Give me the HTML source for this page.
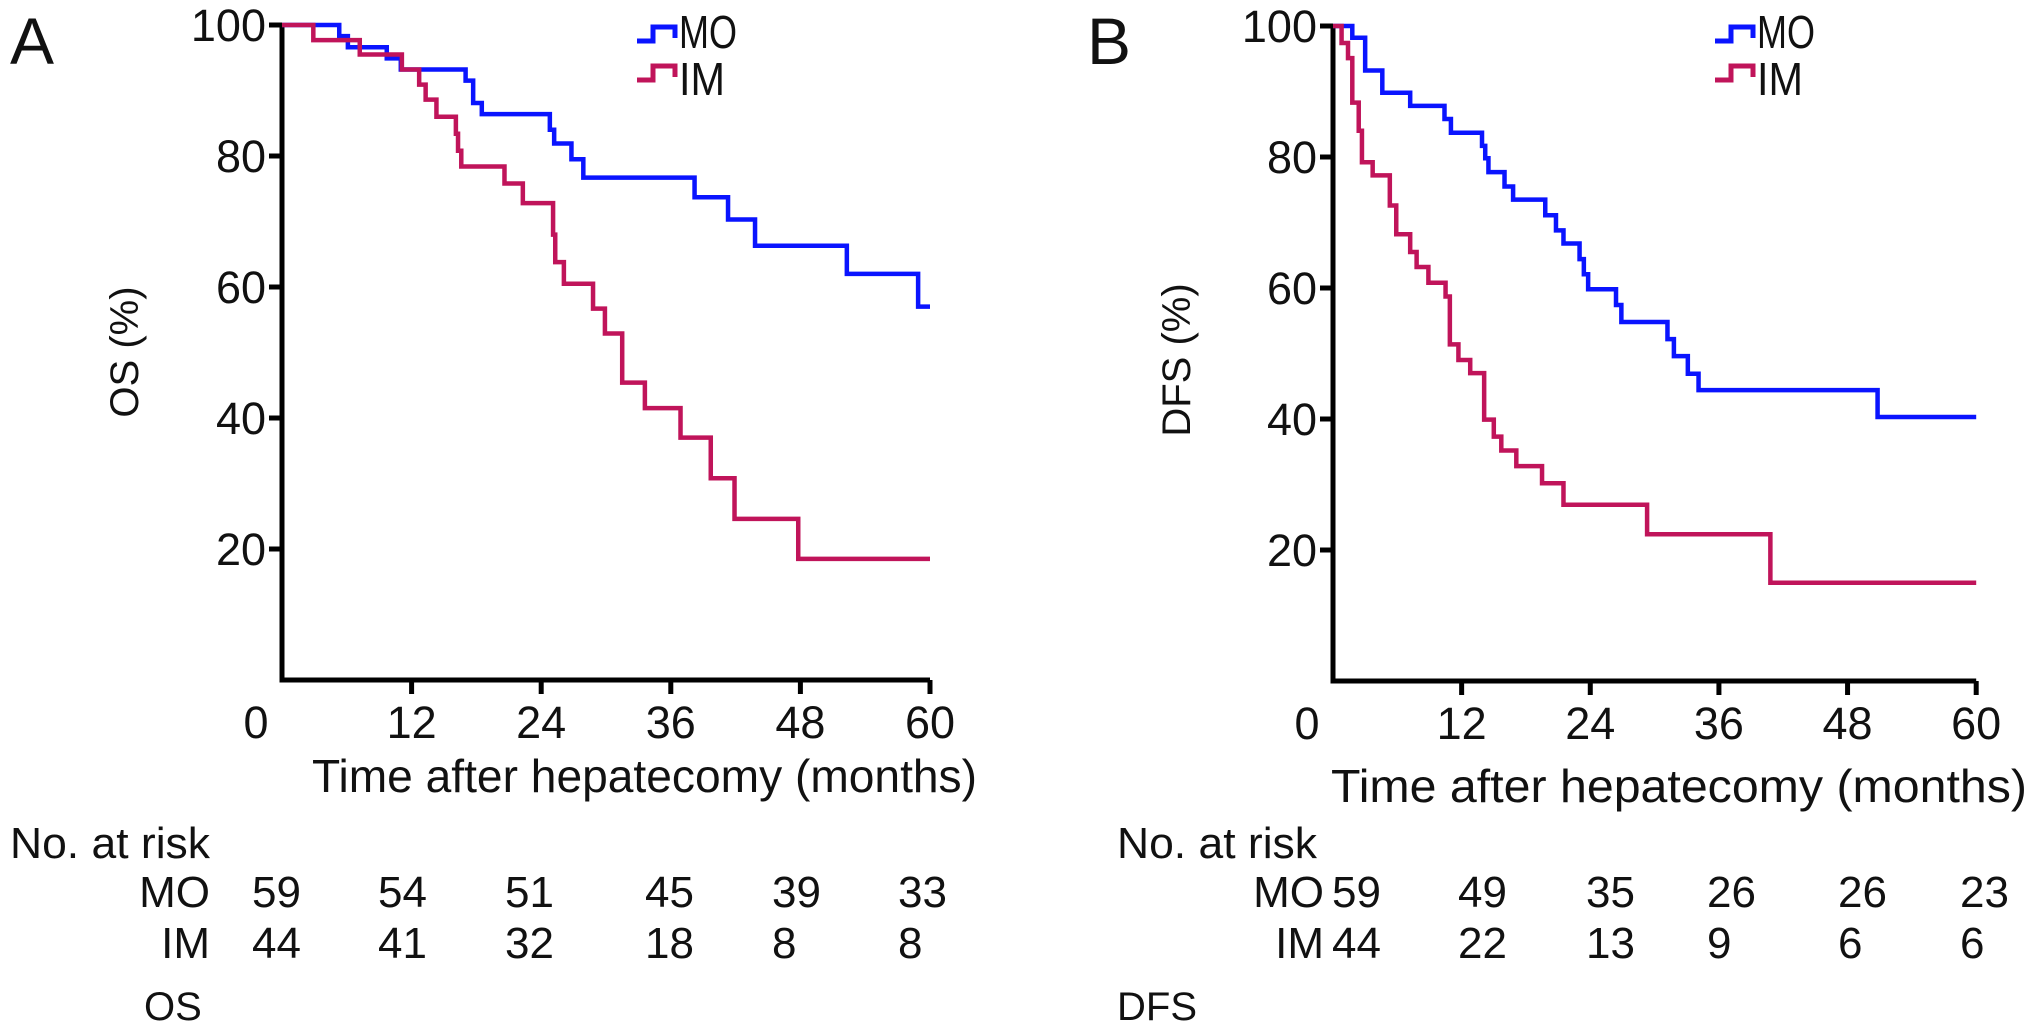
<!DOCTYPE html>
<html><head><meta charset="utf-8"><style>
html,body{margin:0;padding:0;background:#fff;}
svg{display:block;font-family:"Liberation Sans",Arial,sans-serif;}
</style></head><body>
<svg id="chart" width="2031" height="1033" viewBox="0 0 2031 1033" xmlns="http://www.w3.org/2000/svg"></svg>
<script>
// Panel A (OS) data
const osMoTimes = [0, 5.3, 6.1, 9.7, 11.0, 17.0, 17.7, 18.5, 24.8, 25.2, 26.8, 27.9, 38.2, 41.3, 43.8, 52.3, 58.9, 60];
const osMoValues = [100, 98.3, 96.6, 94.9, 93.2, 91.5, 88.1, 86.4, 84.0, 81.9, 79.5, 76.7, 73.7, 70.3, 66.3, 62.0, 57.0, 57.0];
const osImTimes = [0, 2.9, 7.2, 11.1, 12.7, 13.3, 14.3, 16.1, 16.3, 16.6, 20.6, 22.3, 25.1, 25.3, 26.1, 28.8, 29.9, 31.5, 33.6, 36.9, 39.7, 41.9, 47.8, 60];
const osImValues = [100, 97.7, 95.5, 93.2, 90.9, 88.6, 86.0, 83.4, 80.8, 78.4, 75.8, 72.8, 68.0, 63.8, 60.5, 56.7, 52.9, 45.4, 41.5, 37.0, 30.8, 24.6, 18.5, 18.5];
// Panel B (DFS) data
const dfsMoTimes = [0, 1.8, 3.0, 4.6, 7.2, 10.4, 11.0, 13.9, 14.2, 14.5, 16.0, 16.8, 19.8, 20.8, 21.5, 23.0, 23.4, 23.8, 26.4, 26.9, 31.2, 31.8, 33.1, 34.1, 50.8, 60];
const dfsMoValues = [100, 98.2, 93.2, 89.8, 87.8, 85.8, 83.7, 81.7, 79.8, 77.7, 75.5, 73.5, 71.1, 68.8, 66.8, 64.4, 62.1, 59.8, 57.4, 54.8, 52.2, 49.6, 46.9, 44.4, 40.3, 40.3];
const dfsImTimes = [0, 0.8, 1.4, 1.8, 2.4, 2.7, 3.7, 5.3, 5.9, 7.2, 7.8, 8.9, 10.5, 10.9, 11.7, 12.8, 14.1, 15.0, 15.7, 17.1, 19.5, 21.5, 29.3, 40.8, 60];
const dfsImValues = [100, 97.4, 95.1, 88.3, 84.0, 79.2, 77.2, 72.6, 68.2, 65.5, 63.2, 60.8, 58.7, 51.4, 49.0, 47.0, 39.9, 37.3, 35.2, 32.8, 30.2, 26.9, 22.4, 15.0, 15.0];
// Axis ticks
const xTicks = [0, 12, 24, 36, 48, 60];
const yTicks = [20, 40, 60, 80, 100];
// Number at risk tables
const osRiskMo = ["59", "54", "51", "45", "39", "33"];
const osRiskIm = ["44", "41", "32", "18", "8", "8"];
const dfsRiskMo = ["59", "49", "35", "26", "26", "23"];
const dfsRiskIm = ["44", "22", "13", "9", "6", "6"];

const NS = "http://www.w3.org/2000/svg";
const svg = document.getElementById("chart");
const BLUE = "#0a14ff", RED = "#c0145a";
function mk(tag, attrs, parent) {
  const e = document.createElementNS(NS, tag);
  for (const k in attrs) e.setAttribute(k, attrs[k]);
  (parent || svg).appendChild(e);
  return e;
}
function txt(str, x, y, size, anchor, parent) {
  const t = mk("text", {x: x, y: y, "font-size": size, "text-anchor": anchor || "start", fill: "#111"}, parent);
  t.textContent = str;
  return t;
}
function fit(t, w) {
  t.setAttribute("textLength", w);
  t.setAttribute("lengthAdjust", "spacingAndGlyphs");
}

function panel(cfg) {
  const g = mk("g", {});
  
  
  const xs = t => cfg.x0 + t * cfg.pxm;
  const ys = v => cfg.y0 - v * 6.55;
  const ax = mk("path", {d: `M${cfg.x0} ${ys(100)} V${cfg.y0} H${xs(60)}`, fill: "none", stroke: "#000", "stroke-width": 5}, g);
  
  
  yTicks.forEach(v => {
    const tk = mk("line", {x1: cfg.x0 - 13, x2: cfg.x0, y1: ys(v), y2: ys(v), stroke: "#000", "stroke-width": 5}, g);
    
    
    const l = txt(String(v), cfg.x0 - 16, ys(v) + 16, 45, "end", g);
    
    
  });
  xTicks.forEach(t => {
    if (t > 0) {
      const tk = mk("line", {x1: xs(t), x2: xs(t), y1: cfg.y0, y2: cfg.y0 + 14, stroke: "#000", "stroke-width": 5}, g);
      
      
    }
    const lx = t === 0 ? cfg.x0 - 26 : xs(t);
    const l = txt(String(t), lx, cfg.y0 + 58, 45, "middle", g);
    
    
  });
  function step(times, vals, color, name) {
    let d = `M${xs(times[0])} ${ys(vals[0])}`;
    for (let i = 1; i < times.length; i++) {
      d += ` H${xs(times[i])} V${ys(vals[i])}`;
    }
    const p = mk("path", {d: d, fill: "none", stroke: color, "stroke-width": 4.5}, g);
    
    
  }
  step(cfg.moT, cfg.moV, BLUE, 'mo-curve');
  step(cfg.imT, cfg.imV, RED, 'im-curve');
  const lx = cfg.legX;
  [[BLUE, "MO", 41, 48, 58], [RED, "IM", 80, 95, 46]].forEach(([c, lab, by, ty, w]) => {
    const s = mk("path", {d: `M${lx} ${by} H${lx + 16} V${by - 14} H${lx + 38} V${by - 3}`, fill: "none", stroke: c, "stroke-width": 5}, g);
    
    
    const t = txt(lab, lx + 42, ty, 46, "start", g);
    fit(t, w);
    
    
  });
  const yt = txt(cfg.yTitle, 0, 0, 40, "middle", g);
  yt.setAttribute("transform", `translate(${cfg.yTitleX},${cfg.yTitleY}) rotate(-90)`);
  
  
  const xt = txt("Time after hepatecomy (months)", cfg.xTitleX, cfg.xTitleY, 46, "start", g);
  fit(xt, cfg.xTitleW);
  
  
  const pl = txt(cfg.letter, cfg.letterX, 64, 66, "start", g);
  
  
  const nr = txt("No. at risk", cfg.tabX, 858, 44, "start", g);
  fit(nr, 200);
  
  
  const m = txt("MO", cfg.rowLabX, 907, 44, "end", g);
  
  
  const im = txt("IM", cfg.rowLabX, 958, 44, "end", g);
  
  
  cfg.riskMo.forEach((v, i) => {
    const t = txt(v, cfg.cols[i], 907, 44, "start", g);
    
    
  });
  cfg.riskIm.forEach((v, i) => {
    const t = txt(v, cfg.cols[i], 958, 44, "start", g);
    
    
  });
  const cap = txt(cfg.caption, cfg.capX, 1020, 40, "start", g);
  
  
}

panel({name: "os-panel", x0: 282, y0: 680, pxm: 10.8,
  moT: osMoTimes, moV: osMoValues, imT: osImTimes, imV: osImValues,
  legX: 637, yTitle: "OS (%)", yTitleX: 138, yTitleY: 352,
  xTitleX: 312, xTitleY: 792, xTitleW: 665, letter: "A", letterX: 10,
  tabX: 10, rowLabX: 210, cols: [252, 378, 505, 645, 772, 898],
  riskMo: osRiskMo, riskIm: osRiskIm, caption: "OS", capX: 144});
panel({name: "dfs-panel", x0: 1333, y0: 681, pxm: 10.72,
  moT: dfsMoTimes, moV: dfsMoValues, imT: dfsImTimes, imV: dfsImValues,
  legX: 1715, yTitle: "DFS (%)", yTitleX: 1190, yTitleY: 360,
  xTitleX: 1331, xTitleY: 802, xTitleW: 696, letter: "B", letterX: 1087,
  tabX: 1117, rowLabX: 1324, cols: [1332, 1458, 1586, 1707, 1838, 1960],
  riskMo: dfsRiskMo, riskIm: dfsRiskIm, caption: "DFS", capX: 1117});
</script>
</body></html>
